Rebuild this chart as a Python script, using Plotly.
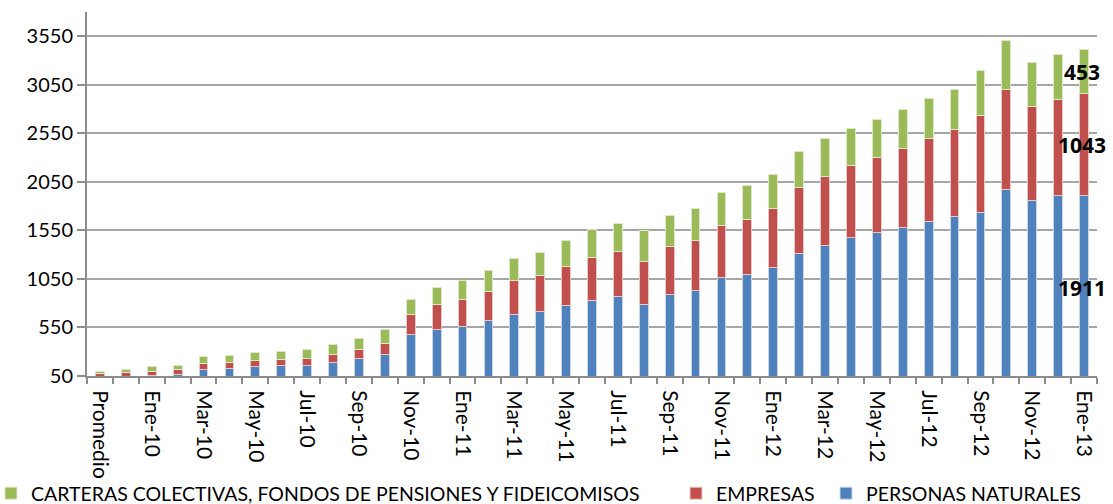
import plotly.graph_objects as go

categories = ["Promedio", "Dic-09",
              "Ene-10", "Feb-10", "Mar-10", "Abr-10", "May-10", "Jun-10", "Jul-10", "Ago-10",
              "Sep-10", "Oct-10", "Nov-10", "Dic-10",
              "Ene-11", "Feb-11", "Mar-11", "Abr-11", "May-11", "Jun-11", "Jul-11", "Ago-11",
              "Sep-11", "Oct-11", "Nov-11", "Dic-11",
              "Ene-12", "Feb-12", "Mar-12", "Abr-12", "May-12", "Jun-12", "Jul-12", "Ago-12",
              "Sep-12", "Oct-12", "Nov-12", "Dic-12",
              "Ene-13"]

personas = [35, 40, 55, 70, 122, 132, 150, 153, 160, 194, 228, 275,
            479, 526, 557, 619, 685, 712, 773, 832, 866, 784, 891, 935,
            1060, 1092, 1162, 1306, 1393, 1472, 1530, 1578, 1637, 1695, 1733, 1970, 1854, 1908,
            1911]
empresas = [39, 44, 39, 45, 55, 59, 61, 69, 68, 75, 93, 109,
            202, 258, 278, 306, 350, 377, 407, 442, 463, 442, 489, 507,
            540, 574, 616, 685, 715, 746, 771, 816, 863, 888, 1001, 1030, 974, 991,
            1043]
carteras = [27, 38, 49, 48, 69, 72, 86, 85, 90, 110, 120, 141,
            161, 182, 193, 212, 226, 237, 266, 286, 292, 319, 324, 330,
            337, 341, 344, 374, 382, 382, 389, 399, 406, 413, 461, 502, 450, 457,
            453]

y_ticks = [50, 550, 1050, 1550, 2050, 2550, 3050, 3550]

labels_shown = [c if i % 2 == 0 else "" for i, c in enumerate(categories)]
x = list(range(len(categories)))

font_family = "Lato, 'Open Sans', Arial, sans-serif"

fig = go.Figure()
fig.add_trace(go.Bar(x=x, y=personas, name="PERSONAS NATURALES",
                     marker=dict(color="#4F81BD", line=dict(color="#C9D6EA", width=1)),
                     width=0.34, legendwidth=221))
fig.add_trace(go.Bar(x=x, y=empresas, name="EMPRESAS",
                     marker=dict(color="#C0504D", line=dict(color="#EBC6C5", width=1)),
                     width=0.34, legendwidth=105))
fig.add_trace(go.Bar(x=x, y=carteras, name="CARTERAS COLECTIVAS, FONDOS DE PENSIONES Y FIDEICOMISOS",
                     marker=dict(color="#9BBB59", line=dict(color="#DCE8C6", width=1)),
                     width=0.34, legendwidth=640))

# data labels on the last bar
last = len(categories) - 1
b, r, g = personas[last], empresas[last], carteras[last]
for val, ymid in [(b, b / 2), (r, b + r / 2), (g, b + r + g / 2)]:
    fig.add_annotation(x=last, y=ymid, xref="x", yref="y", text=f"<b>{val}</b>",
                       showarrow=False, xanchor="center", yanchor="middle", xshift=-2,
                       font=dict(size=21, color="black", family="'Open Sans', Arial, sans-serif"))

fig.update_layout(
    barmode="stack",
    width=1113, height=504,
    margin=dict(l=87, r=16, t=12, b=128, autoexpand=False),
    paper_bgcolor="white", plot_bgcolor="white",
    font=dict(family=font_family, color="black"),
    showlegend=True,
    legend=dict(orientation="h", traceorder="reversed", x=-96 / 1010, xanchor="left",
                y=-137 / 364, yanchor="bottom", font=dict(size=19.5), itemwidth=30,
                bgcolor="rgba(0,0,0,0)"),
)

fig.update_xaxes(
    range=[-0.5, len(categories) - 0.5],
    tickmode="array", tickvals=x, ticktext=labels_shown,
    tickangle=90, ticks="", tickfont=dict(size=21), ticklabelstandoff=8,
    showline=True, linecolor="#8C8C8C", linewidth=2,
    showgrid=False, zeroline=False, automargin=False,
    minor=dict(tick0=-0.5, dtick=1, ticks="outside", ticklen=6, tickcolor="#8C8C8C", tickwidth=1.5),
)
fig.update_yaxes(
    range=[50, 3797],
    tickmode="array", tickvals=y_ticks,
    ticks="outside", ticklen=8, tickcolor="#8C8C8C", tickwidth=1.5,
    tickfont=dict(size=20), ticklabelstandoff=0,
    showline=True, linecolor="#8C8C8C", linewidth=2,
    showgrid=True, gridcolor="#A6A6A6", gridwidth=2,
    zeroline=False, automargin=False,
)

fig.write_html("out.html", config={"displayModeBar": False},
               post_script="document.body.style.margin='0';document.body.style.padding='0';")
